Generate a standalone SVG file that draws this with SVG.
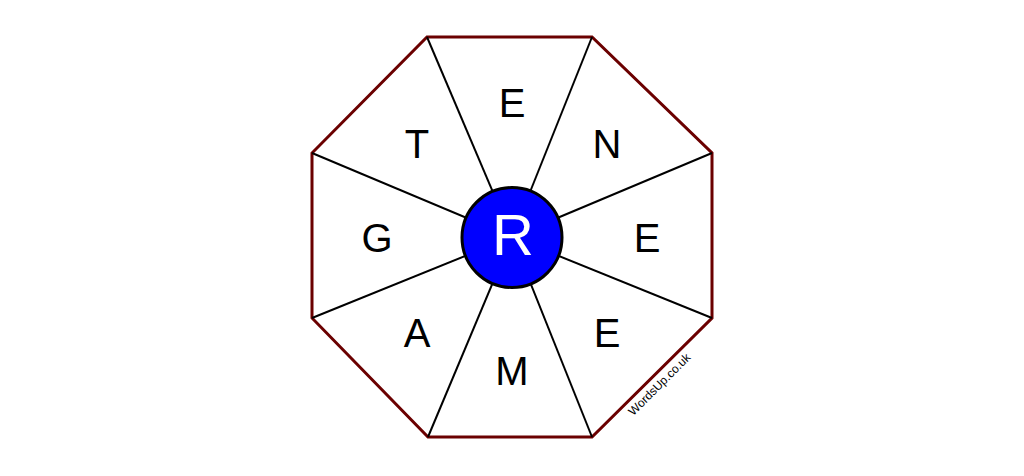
<svg xmlns="http://www.w3.org/2000/svg" width="1024" height="476" viewBox="0 0 1024 476">
<style>
.spoke{stroke:#000;stroke-width:2;fill:none}
.letter{font-family:"Liberation Sans",Arial,sans-serif;font-size:40px;fill:#000;text-anchor:middle}
</style>
<rect width="1024" height="476" fill="#fff"/>
<g id="octagon">
<polygon points="427,37 592,37 712,153 712,318 592,437 428,437 312,318 312,153" fill="#fff" stroke="#6b0000" stroke-width="3" stroke-linejoin="miter"/>
</g>
<g id="connectors">
<line class="spoke" x1="512" y1="237" x2="427" y2="37"/>
<line class="spoke" x1="512" y1="237" x2="592" y2="37"/>
<line class="spoke" x1="512" y1="237" x2="712" y2="153"/>
<line class="spoke" x1="512" y1="237" x2="712" y2="318"/>
<line class="spoke" x1="512" y1="237" x2="592" y2="437"/>
<line class="spoke" x1="512" y1="237" x2="428" y2="437"/>
<line class="spoke" x1="512" y1="237" x2="312" y2="318"/>
<line class="spoke" x1="512" y1="237" x2="312" y2="153"/>
</g>
<g id="seg-top"><text class="letter" x="512" y="117">E</text></g>
<g id="seg-top-right"><text class="letter" x="607" y="158">N</text></g>
<g id="seg-right"><text class="letter" x="647" y="252">E</text></g>
<g id="seg-bottom-right"><text class="letter" x="607" y="347">E</text></g>
<g id="seg-bottom"><text class="letter" x="512" y="385">M</text></g>
<g id="seg-bottom-left"><text class="letter" x="417" y="347">A</text></g>
<g id="seg-left"><text class="letter" x="377" y="252">G</text></g>
<g id="seg-top-left"><text class="letter" x="417" y="158">T</text></g>
<g id="center">
<circle cx="512" cy="237.5" r="50" fill="#0000ff" stroke="#000" stroke-width="3"/>
<text x="513" y="255" font-family="Liberation Sans, Arial, sans-serif" font-size="58" fill="#fff" text-anchor="middle">R</text>
</g>
<g id="watermark">
<text x="0" y="0" transform="translate(660,385) rotate(-45)" font-family="Liberation Sans, Arial, sans-serif" font-size="12" fill="#000" text-anchor="middle" dominant-baseline="middle">WordsUp.co.uk</text>
</g>
</svg>
